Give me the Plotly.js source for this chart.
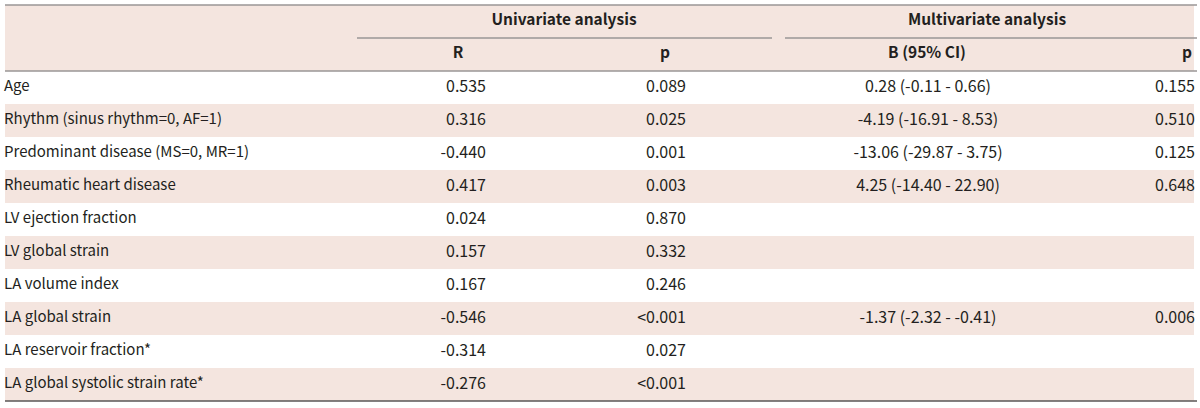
<!DOCTYPE html>
<html>
<head>
<meta charset="utf-8">
<script src="https://cdn.plot.ly/plotly-3.0.1.min.js"></script>
<style>html,body{margin:0;padding:0;background:#fff;}#chart{width:1200px;height:408px;}</style>
</head>
<body>
<div id="chart"></div>
<script>
// ---- data ----
const variables = ["Age","Rhythm (sinus rhythm=0, AF=1)","Predominant disease (MS=0, MR=1)","Rheumatic heart disease","LV ejection fraction","LV global strain","LA volume index","LA global strain","LA reservoir fraction*","LA global systolic strain rate*"];
const uniR = ["0.535","0.316","-0.440","0.417","0.024","0.157","0.167","-0.546","-0.314","-0.276"];
const uniP = ["0.089","0.025","0.001","0.003","0.870","0.332","0.246","<0.001","0.027","<0.001"];
const multiB = ["0.28 (-0.11 - 0.66)","-4.19 (-16.91 - 8.53)","-13.06 (-29.87 - 3.75)","4.25 (-14.40 - 22.90)","","","","-1.37 (-2.32 - -0.41)","",""];
const multiP = ["0.155","0.510","0.125","0.648","","","","0.006","",""];
const groupHeaders = ["Univariate analysis","Multivariate analysis"];
const colHeaders = ["R","p","B (95% CI)","p"];

// ---- layout helpers ----
const FONT = "'Noto Sans CJK KR', 'Noto Sans', sans-serif";
const TXT = "#231f20";
const PINK = "#f4e5df";
const n = variables.length;
const rows = variables.map((_, i) => i);
const X0 = 5, X1 = 1194;

const shapes = [];
shapes.push({type:'rect', xref:'x', yref:'y', x0:X0, x1:X1, y0:-2.5, y1:-0.5, fillcolor:PINK, line:{width:0}, layer:'below'});
rows.forEach(i => {
  if (i % 2 === 1) shapes.push({type:'rect', xref:'x', yref:'y', x0:X0, x1:X1, y0:i-0.5, y1:i+0.5, fillcolor:PINK, line:{width:0}, layer:'below'});
});
shapes.push({type:'line', xref:'x', yref:'y', x0:X0, x1:1197, y0:-2.5, y1:-2.5, line:{color:'#9a9696', width:1.5}});
shapes.push({type:'line', xref:'x', yref:'y', x0:357, x1:772, y0:-1.5, y1:-1.5, line:{color:'#9a9696', width:1.5}});
shapes.push({type:'line', xref:'x', yref:'y', x0:785, x1:1197, y0:-1.5, y1:-1.5, line:{color:'#9a9696', width:1.5}});
shapes.push({type:'line', xref:'x', yref:'y', x0:X0, x1:1197, y0:-0.5, y1:-0.5, line:{color:'#9a9696', width:1.5}});
shapes.push({type:'line', xref:'x', yref:'y', x0:X0, x1:1197, y0:n-0.5, y1:n-0.5, line:{color:'#5a5656', width:1.5}});

const fntLabel = {family:FONT, size:15, color:TXT};
const fntNum = {family:FONT, size:16, color:TXT};
const fntB = {family:FONT, size:15.5, color:TXT, weight:'bold'};

function col(x, text, pos, f) {
  return {type:'scatter', mode:'text', x:rows.map(() => x), y:rows, text:text,
          textposition:pos, textfont:f, hoverinfo:'skip', showlegend:false, cliponaxis:false};
}

const traces = [
  col(X0 - 1, variables, 'middle right', fntLabel),
  col(486, uniR, 'middle left', fntNum),
  col(686, uniP, 'middle left', fntNum),
  col(928, multiB, 'middle center', fntNum),
  col(1195, multiP, 'middle left', fntNum),
  {type:'scatter', mode:'text', x:[564, 987], y:[-2, -2], text:groupHeaders, textposition:'middle center',
   textfont:fntB, hoverinfo:'skip', showlegend:false, cliponaxis:false},
  {type:'scatter', mode:'text', x:[458, 665, 927, 1187], y:[-1,-1,-1,-1], text:colHeaders, textposition:'middle center',
   textfont:fntB, hoverinfo:'skip', showlegend:false, cliponaxis:false}
];

const topPx = 71, rowH = 33, H = 408;
const layout = {
  width:1200, height:408, margin:{l:0, r:0, t:0, b:0},
  paper_bgcolor:'#fff', plot_bgcolor:'#fff',
  xaxis:{range:[0,1200], visible:false, fixedrange:true},
  yaxis:{range:[(H-topPx)/rowH - 0.5, -topPx/rowH - 0.5], visible:false, fixedrange:true},
  shapes:shapes, showlegend:false
};
Plotly.newPlot('chart', traces, layout, {staticPlot:true, displayModeBar:false});
</script>
</body>
</html>
